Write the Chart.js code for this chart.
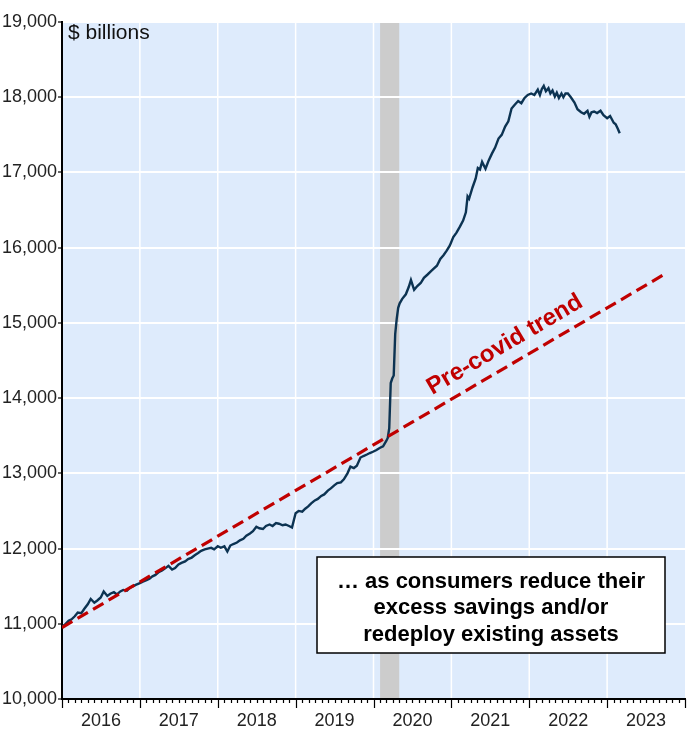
<!DOCTYPE html>
<html>
<head>
<meta charset="utf-8">
<script src="https://cdn.jsdelivr.net/npm/chart.js@4.4.0/dist/chart.umd.min.js"></script>
<style>
  body { margin: 0; background: #fff; }
  canvas { display: block; }
</style>
</head>
<body>
<canvas id="chart" width="689" height="737"></canvas>
<script>
const dates = [
  '2016-01-01','2016-01-15','2016-02-01','2016-02-15','2016-03-01','2016-03-15','2016-04-01','2016-04-15','2016-05-01','2016-05-15','2016-06-01','2016-06-15',
  '2016-07-01','2016-07-15','2016-08-01','2016-08-15','2016-09-01','2016-09-15','2016-10-01','2016-10-15','2016-11-01','2016-11-15','2016-12-01','2016-12-15',
  '2017-01-01','2017-01-15','2017-02-01','2017-02-15','2017-03-01','2017-03-15','2017-04-01','2017-04-15','2017-05-01','2017-05-15','2017-06-01','2017-06-15',
  '2017-07-01','2017-07-15','2017-08-01','2017-08-15','2017-09-01','2017-09-15','2017-10-01','2017-10-15','2017-11-01','2017-11-15','2017-12-01','2017-12-15',
  '2018-01-01','2018-01-15','2018-02-01','2018-02-15','2018-03-01','2018-03-15','2018-04-01','2018-04-15','2018-05-01','2018-05-15','2018-06-01','2018-06-15',
  '2018-07-01','2018-07-15','2018-08-01','2018-08-15','2018-09-01','2018-09-15','2018-10-01','2018-10-15','2018-11-01','2018-11-15','2018-12-01','2018-12-15',
  '2019-01-01','2019-01-15','2019-02-01','2019-02-15','2019-03-01','2019-03-15','2019-04-01','2019-04-15','2019-05-01','2019-05-15','2019-06-01','2019-06-15',
  '2019-07-01','2019-07-15','2019-08-01','2019-08-15','2019-09-01','2019-09-15','2019-10-01','2019-10-15','2019-11-01','2019-11-15','2019-12-01','2019-12-15',
  '2020-01-01','2020-01-15','2020-02-01','2020-02-15','2020-03-01','2020-03-08','2020-03-15','2020-03-22','2020-03-29','2020-04-05','2020-04-12','2020-04-19','2020-04-26',
  '2020-05-03','2020-05-15','2020-06-01','2020-06-15','2020-06-25','2020-07-10','2020-07-25','2020-08-10','2020-08-25','2020-09-10','2020-09-25',
  '2020-10-10','2020-10-25','2020-11-10','2020-11-25','2020-12-10','2020-12-25',
  '2021-01-10','2021-01-25','2021-02-10','2021-02-25','2021-03-10','2021-03-18','2021-03-25','2021-04-10','2021-04-25','2021-05-05','2021-05-15','2021-05-25',
  '2021-06-10','2021-06-25','2021-07-10','2021-07-25','2021-08-10','2021-08-25','2021-09-10','2021-09-25','2021-10-10','2021-10-25','2021-11-10','2021-11-25',
  '2021-12-10','2021-12-25',
  '2022-01-10','2022-01-25','2022-02-10','2022-02-20','2022-03-01','2022-03-10','2022-03-20','2022-04-01','2022-04-10','2022-04-20','2022-05-01','2022-05-10',
  '2022-05-20','2022-06-01','2022-06-10','2022-06-20','2022-07-01','2022-07-15','2022-08-01','2022-08-15','2022-09-01','2022-09-15','2022-10-01','2022-10-10',
  '2022-10-20','2022-11-01','2022-11-15','2022-12-01','2022-12-15',
  '2023-01-01','2023-01-15','2023-02-01','2023-02-10','2023-02-20','2023-03-01'
];
const deposits = [
  10960,10990,11040,11060,11100,11150,11140,11200,11260,11330,11280,11310,
  11350,11430,11370,11400,11420,11390,11430,11450,11440,11480,11500,11520,
  11540,11560,11580,11600,11630,11650,11690,11710,11740,11770,11720,11740,
  11790,11810,11830,11860,11880,11910,11940,11970,11990,12000,12010,11990,
  12030,12010,12030,11960,12040,12060,12080,12110,12130,12170,12200,12230,
  12290,12270,12260,12300,12320,12300,12340,12330,12310,12320,12300,12280,
  12470,12500,12490,12530,12560,12600,12640,12660,12700,12720,12770,12800,
  12840,12870,12880,12920,13000,13090,13070,13100,13210,13230,13250,13270,
  13290,13310,13340,13360,13430,13470,13600,14200,14260,14300,14850,15050,15200,
  15260,15320,15380,15480,15570,15440,15490,15530,15600,15640,15680,
  15720,15760,15850,15900,15960,16030,
  16140,16200,16280,16360,16470,16680,16650,16800,16920,17060,17040,17140,
  17050,17160,17250,17330,17450,17500,17610,17680,17850,17900,17950,17920,
  17990,18030,
  18050,18030,18100,18030,18110,18150,18080,18120,18050,18090,18010,18060,
  17990,18050,18000,18050,18050,18000,17930,17840,17800,17780,17820,17740,
  17800,17810,17790,17820,17760,
  17720,17750,17660,17640,17580,17520
];

// pre-covid trend (start and end)
const trendDates = ['2016-01-01', '2023-10-08'];
const trendValues = [10950, 15665];

// recession shading
const recession = ['2020-02-01', '2020-05-01'];

const yTicks = [10000, 11000, 12000, 13000, 14000, 15000, 16000, 17000, 18000, 19000];
const years = [2016, 2017, 2018, 2019, 2020, 2021, 2022, 2023];

// date string -> decimal year
function dec(s) {
  const [y, m, d] = s.split('-').map(Number);
  const start = Date.UTC(y, 0, 1), end = Date.UTC(y + 1, 0, 1);
  return y + (Date.UTC(y, m - 1, d) - start) / (end - start);
}

const narrow = "'Liberation Sans Narrow', 'Arial Narrow', sans-serif";
const sans = "'Liberation Sans', Arial, sans-serif";

const backdrop = {
  id: 'backdrop',
  beforeDraw(chart) {
    const { ctx, chartArea: a, scales: { x } } = chart;
    ctx.save();
    ctx.fillStyle = '#deebfc';
    ctx.fillRect(a.left, a.top, a.right - a.left, a.bottom - a.top);
    const x0 = x.getPixelForValue(dec(recession[0]));
    const x1 = x.getPixelForValue(dec(recession[1]));
    ctx.fillStyle = '#cccccc';
    ctx.fillRect(x0, a.top, x1 - x0, a.bottom - a.top);
    // white line for every year
    ctx.strokeStyle = '#ffffff';
    ctx.lineWidth = 1.5;
    years.forEach(yr => {
      const px = x.getPixelForValue(yr);
      ctx.beginPath();
      ctx.moveTo(px, a.top);
      ctx.lineTo(px, a.bottom);
      ctx.stroke();
    });
    ctx.restore();
  }
};

const notes = {
  id: 'notes',
  afterDatasetsDraw(chart) {
    const { ctx, scales: { x, y } } = chart;
    // label along the trend line
    const px1 = x.getPixelForValue(dec(trendDates[0])), py1 = y.getPixelForValue(trendValues[0]);
    const px2 = x.getPixelForValue(dec(trendDates[1])), py2 = y.getPixelForValue(trendValues[1]);
    const ang = Math.atan2(py2 - py1, px2 - px1);
    const fx = 515;
    const fy = py1 + (fx - px1) * (py2 - py1) / (px2 - px1);
    ctx.save();
    ctx.translate(fx, fy);
    ctx.rotate(ang);
    ctx.fillStyle = '#c00000';
    ctx.font = 'bold 24px ' + sans;
    ctx.textAlign = 'center';
    ctx.textBaseline = 'middle';
    ctx.fillText('Pre-covid trend', 0, -20);
    ctx.restore();
  },
  afterDraw(chart) {
    const { ctx, chartArea: a, scales: { x } } = chart;
    ctx.save();
    // month / year ticks under the axis
    ctx.strokeStyle = '#000';
    ctx.lineWidth = 1.2;
    for (let i = 0; i <= 96; i++) {
      const px = Math.round(x.getPixelForValue(2016 + i / 12)) + 0.5;
      const len = i % 12 === 0 ? 9 : 4;
      ctx.beginPath();
      ctx.moveTo(px, a.bottom);
      ctx.lineTo(px, a.bottom + len);
      ctx.stroke();
    }
    // units
    ctx.fillStyle = '#111';
    ctx.font = '21px ' + sans;
    ctx.textAlign = 'left';
    ctx.textBaseline = 'middle';
    ctx.fillText('$ billions', a.left + 6, 33);
    // text box
    ctx.fillStyle = '#fff';
    ctx.fillRect(317, 557, 348, 96);
    ctx.strokeStyle = '#000';
    ctx.lineWidth = 1.5;
    ctx.strokeRect(317, 557, 348, 96);
    ctx.fillStyle = '#000';
    ctx.font = 'bold 22px ' + sans;
    ctx.textAlign = 'center';
    ctx.fillText('\u2026 as consumers reduce their', 491, 582);
    ctx.fillText('excess savings and/or', 491, 608);
    ctx.fillText('redeploy existing assets', 491, 635);
    ctx.restore();
  }
};

new Chart(document.getElementById('chart'), {
  type: 'line',
  data: {
    datasets: [
      {
        data: trendDates.map((d, i) => ({ x: dec(d), y: trendValues[i] })),
        borderColor: '#c00000',
        borderWidth: 3.2,
        borderDash: [12, 6],
        pointRadius: 0,
        tension: 0
      },
      {
        data: dates.map((d, i) => ({ x: dec(d), y: deposits[i] })),
        borderColor: '#0c3352',
        borderWidth: 2.4,
        pointRadius: 0,
        tension: 0
      }
    ]
  },
  options: {
    responsive: false,
    animation: false,
    layout: { padding: { top: 22, right: 4, left: 0, bottom: 0 } },
    plugins: { legend: { display: false }, tooltip: { enabled: false } },
    scales: {
      x: {
        type: 'linear',
        min: 2016,
        max: 2024,
        afterFit(s) { s.height = 38; },
        afterBuildTicks(s) { s.ticks = years.map(y => ({ value: y + 0.5 })); },
        ticks: {
          autoSkip: false,
          maxRotation: 0,
          padding: 11,
          color: '#222',
          font: { family: narrow, size: 18 },
          callback: v => String(Math.floor(v))
        },
        grid: { drawTicks: false, display: false },
        border: { display: true, color: '#000', width: 2 }
      },
      y: {
        min: 10000,
        max: 19000,
        afterFit(s) { s.width = 62; },
        afterBuildTicks(s) { s.ticks = yTicks.map(v => ({ value: v })); },
        ticks: {
          padding: 1,
          color: '#222',
          font: { family: narrow, size: 18 },
          callback: v => v.toLocaleString('en-US')
        },
        grid: {
          color: '#ffffff',
          lineWidth: 2,
          tickLength: 4,
          tickColor: '#000',
          tickWidth: 1.2
        },
        border: { display: true, color: '#000', width: 2 }
      }
    }
  },
  plugins: [backdrop, notes]
});
</script>
</body>
</html>
